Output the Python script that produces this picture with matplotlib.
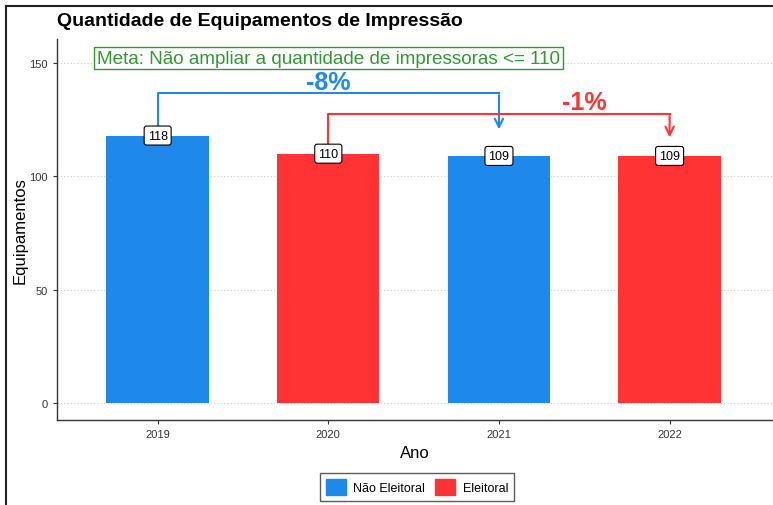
import matplotlib
matplotlib.use("Agg")
import matplotlib.pyplot as plt
import matplotlib.patches as mpatches
from matplotlib.lines import Line2D

plt.rcParams["font.family"] = ["Liberation Sans", "DejaVu Sans"]

# ── data ──────────────────────────────────────────────────────────────────────
anos = ["2019", "2020", "2021", "2022"]
equipamentos = [118, 110, 109, 109]
tipo = ["Não Eleitoral", "Eleitoral", "Não Eleitoral", "Eleitoral"]
variacoes = ["-8%", "-1%"]
meta_txt = "Meta: Não ampliar a quantidade de impressoras <= 110"

BLUE = "#1E88EB"
RED = "#FF3333"
GREEN = "#2E9B2E"
cores = {"Não Eleitoral": BLUE, "Eleitoral": RED}

fig = plt.figure(figsize=(7.73, 5.06), dpi=100)
ax = fig.add_axes([0.0737, 0.168, 0.925, 0.753])

x = list(range(len(anos)))
ax.bar(x, equipamentos, width=0.6, color=[cores[t] for t in tipo], zorder=2)

# value labels
for xi, v in zip(x, equipamentos):
    ax.text(xi, v, str(v), ha="center", va="center", fontsize=9, zorder=5,
            bbox=dict(boxstyle="round,pad=0.28,rounding_size=0.2",
                      fc="white", ec="black", lw=0.8))

# brackets with arrows
def bracket(x0, x1, y0, ytop, y1, color, label, xtxt, ytxt):
    ax.plot([x0, x0, x1], [y0, ytop, ytop], color=color, lw=1.5, zorder=3)
    ax.annotate("", xy=(x1, y1), xytext=(x1, ytop + 0.3),
                arrowprops=dict(arrowstyle="->", color=color, lw=1.5,
                                mutation_scale=15), zorder=3)
    ax.text(xtxt, ytxt, label, color=color, fontsize=18,
            fontweight="bold", ha="center", va="center", zorder=4)

bracket(x[0], x[2], 122, 136.7, 119.5, BLUE, variacoes[0], 1.0, 141.8)
bracket(x[1], x[3], 113.8, 127.5, 116.0, RED, variacoes[1], 2.5, 132.8)

# meta box
ax.text(1.0, 152.2, meta_txt, color=GREEN, fontsize=13.6, ha="center",
        va="center", zorder=4,
        bbox=dict(boxstyle="square,pad=0.15", fc="white", ec=GREEN, lw=1.0))

ax.set_xlim(-0.59, 3.6)
ax.set_ylim(-7.5, 160.6)
ax.set_xticks(x)
ax.set_xticklabels(anos)
ax.set_yticks([0, 50, 100, 150])
ax.tick_params(labelsize=8, colors="#333333", length=3, width=0.8)
ax.grid(axis="y", color="#cccccc", linestyle=(0, (1, 2)), lw=0.8, zorder=0)
for s in ["top", "right"]:
    ax.spines[s].set_visible(False)
for s in ["left", "bottom"]:
    ax.spines[s].set_color("#333333")
    ax.spines[s].set_linewidth(1.0)

ax.set_ylabel("Equipamentos", fontsize=12, labelpad=1)
ax.set_xlabel("Ano", fontsize=12, labelpad=4)

fig.text(57 / 773, 1 - 21 / 506, "Quantidade de Equipamentos de Impressão",
         fontsize=14, fontweight="bold", ha="left", va="center")

handles = [mpatches.Patch(color=BLUE, label="Não Eleitoral"),
           mpatches.Patch(color=RED, label="Eleitoral")]
leg = fig.legend(handles=handles, loc="center", bbox_to_anchor=(417 / 773, 1 - 488 / 506),
                 ncol=2, fontsize=9, frameon=True, fancybox=False,
                 handlelength=1.6, handleheight=1.6, columnspacing=0.8,
                 handletextpad=0.6, borderpad=0.5)
leg.get_frame().set_edgecolor("#333333")
leg.get_frame().set_linewidth(1.0)

# screenshot frame (left and top)
fig.add_artist(Line2D([6 / 773, 6 / 773], [0, 1 - 7 / 506], color="#222222", lw=1.5))
fig.add_artist(Line2D([6 / 773, 1], [1 - 7 / 506, 1 - 7 / 506], color="#222222", lw=1.5))

fig.savefig("out.png", dpi=100)
